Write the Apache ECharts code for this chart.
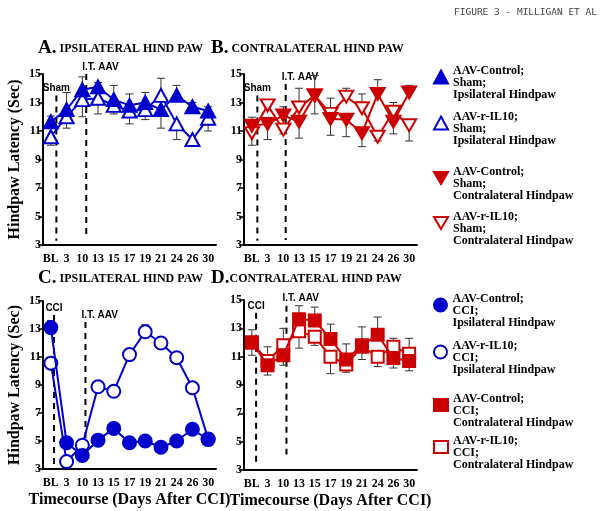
<!DOCTYPE html>
<html>
<head>
<meta charset="utf-8">
<script src="https://cdn.jsdelivr.net/npm/echarts@6/dist/echarts.min.js"></script>
<style>
  html, body { margin: 0; padding: 0; background: #fff; }
  #chart { width: 600px; height: 511px; }
</style>
</head>
<body>
<div id="chart"></div>
<script>
const categories = ['BL', '3', '10', '13', '15', '17', '19', '21', '24', '26', '30'];

// A. ipsilateral, sham
const shamIpsiCtrl = [11.65, 12.5, 13.9, 14.1, 13.2, 12.8, 13.0, 12.5, 13.5, 12.7, 12.4];
const shamIpsiCtrlSem = [0.4, 1.2, 0.9, 0.3, 1.0, 0.8, 0.7, 1.3, 0.7, 0.3, 0.3];
const shamIpsiIL10 = [10.6, 12.0, 13.2, 13.3, 12.8, 12.4, 12.5, 13.5, 11.5, 10.4, 11.9];
const shamIpsiIL10Sem = [0.6, 0.8, 1.2, 1.1, 0.6, 0.9, 0.7, 1.2, 1.1, 0.3, 0.9];
// B. contralateral, sham
const shamContraCtrl = [11.37, 11.5, 12.1, 11.65, 13.5, 11.85, 11.8, 10.85, 13.6, 11.65, 13.7];
const shamContraCtrlSem = [0.6, 1.1, 0.6, 1.15, 1.4, 1.15, 1.2, 0.95, 1.0, 0.85, 0.5];
const shamContraIL10 = [10.85, 12.8, 11.1, 12.65, 13.5, 12.2, 13.4, 12.6, 10.6, 12.35, 11.4];
const shamContraIL10Sem = [0.85, 0.4, 0.3, 1.35, 1.3, 1.1, 0.6, 1.0, 0.3, 0.65, 1.1];
// C. ipsilateral, CCI
const cciIpsiCtrl = [13.1, 4.87, 3.97, 5.06, 5.9, 4.87, 5.0, 4.55, 5.0, 5.84, 5.1];
const cciIpsiCtrlSem = [0.5, 0.3, 0.3, 0.2, 0.3, 0.2, 0.2, 0.2, 0.2, 0.3, 0.2];
const cciIpsiIL10 = [10.56, 3.53, 4.7, 8.87, 8.55, 11.17, 12.8, 12.0, 10.95, 8.8, 5.15];
const cciIpsiIL10Sem = [0.3, 0.2, 0.2, 0.3, 0.3, 0.3, 0.5, 0.3, 0.3, 0.3, 0.2];
// D. contralateral, CCI
const cciContraCtrl = [12.0, 10.4, 11.1, 13.65, 13.55, 12.25, 10.8, 11.8, 12.55, 10.9, 10.7];
const cciContraCtrlSem = [0.9, 0.7, 0.7, 0.95, 0.95, 1.05, 1.1, 1.3, 1.25, 0.7, 0.7];
const cciContraIL10 = [12.0, 10.7, 11.8, 12.8, 12.4, 11.0, 10.45, 11.7, 11.0, 11.7, 11.2];
const cciContraIL10Sem = [0.9, 1.0, 1.2, 1.2, 0.6, 1.2, 0.55, 0.9, 0.7, 0.6, 1.1];

const yTicks = { min: 3, max: 15, interval: 2 };
const panelTitles = ['IPSILATERAL HIND PAW', 'CONTRALATERAL HIND PAW', 'IPSILATERAL HIND PAW', 'CONTRALATERAL HIND PAW'];
const panelLetters = ['A.', 'B.', 'C.', 'D.'];
// [label, category index, fraction towards next category, top value, bottom value]
const shamEvents = [['Sham', 0, 0.35, 13.5, 3.3], ['I.T. AAV', 2, 0.25, 15, 3.6]];
const shamEventsB = [['Sham', 0, 0.35, 13.5, 3.3], ['I.T. AAV', 2, 0.15, 14.3, 3.35]];
const cciEventsC = [['CCI', 0, 0.2, 14.0, 3.3], ['I.T. AAV', 2, 0.2, 13.5, 4.0]];
const cciEventsD = [['CCI', 0, 0.27, 14.1, 3.5], ['I.T. AAV', 2, 0.2, 14.6, 4.1]];

const SERIF = '"Liberation Serif", "DejaVu Serif", serif';
const SANS = '"Liberation Sans", Arial, sans-serif';
const BLUE = '#0000cc';
const RED = '#cc0000';
const DOWN = 'path://M0,0L14,0L7,12Z';

const chart = echarts.init(document.getElementById('chart'), null, { renderer: 'canvas' });

const grids = [
  { left: 43, top: 74, width: 173, height: 171 },
  { left: 244, top: 74, width: 173, height: 171 },
  { left: 43, top: 301, width: 173, height: 168 },
  { left: 244, top: 300, width: 173, height: 170 }
];

function makeXAxis(gi) {
  const ax = {
    type: 'category', gridIndex: gi, data: categories, boundaryGap: true,
    axisLine: { lineStyle: { color: '#000', width: 2 } },
    axisTick: { alignWithLabel: true, length: 4, lineStyle: { color: '#000', width: 1.5 } },
    axisLabel: { fontFamily: SERIF, fontWeight: 'bold', fontSize: 12, color: '#000', margin: 8, interval: 0 },
    splitLine: { show: false }
  };
  if (gi >= 2) {
    ax.name = 'Timecourse (Days After CCI)';
    ax.nameLocation = 'middle';
    ax.nameGap = 23;
    ax.nameTextStyle = { fontFamily: SERIF, fontWeight: 'bold', fontSize: 16, color: '#000' };
  }
  return ax;
}

function makeYAxis(gi) {
  const ax = {
    type: 'value', gridIndex: gi, min: yTicks.min, max: yTicks.max, interval: yTicks.interval,
    axisLine: { show: true, lineStyle: { color: '#000', width: 2 } },
    axisTick: { show: true, length: 5, lineStyle: { color: '#000', width: 1.5 } },
    axisLabel: { fontFamily: SERIF, fontWeight: 'bold', fontSize: 12, color: '#000', margin: 2 },
    splitLine: { show: false }
  };
  if (gi === 0 || gi === 2) {
    ax.name = 'Hindpaw Latency (Sec)';
    ax.nameLocation = 'middle';
    ax.nameGap = 20;
    ax.nameTextStyle = { fontFamily: SERIF, fontWeight: 'bold', fontSize: 16, color: '#000' };
  }
  return ax;
}

function errorItems(vals, sems, other) {
  return vals.map((v, i) => [i, v, sems[i], v >= other[i] ? 1 : -1]);
}
function errorItemsOpen(vals, sems, other) {
  return vals.map((v, i) => [i, v, sems[i], v > other[i] ? 1 : -1]);
}

function renderError(params, api) {
  const i = api.value(0), v = api.value(1), sem = api.value(2), dir = api.value(3);
  const p0 = api.coord([i, v]);
  const p1 = api.coord([i, v + dir * sem]);
  const st = { stroke: '#333', lineWidth: 1 };
  return {
    type: 'group', children: [
      { type: 'line', shape: { x1: p0[0], y1: p0[1], x2: p1[0], y2: p1[1] }, style: st },
      { type: 'line', shape: { x1: p1[0] - 4, y1: p1[1], x2: p1[0] + 4, y2: p1[1] }, style: st }
    ]
  };
}

function eventSeries(gi, events) {
  return {
    type: 'custom', xAxisIndex: gi, yAxisIndex: gi, z: 1, silent: true,
    encode: { x: 0, y: [2, 3] },
    data: events.map(e => [e[1], e[2], e[3], e[4]]),
    renderItem: function (params, api) {
      const i = api.value(0), f = api.value(1), top = api.value(2), bot = api.value(3);
      const a = api.coord([i, top]), b = api.coord([i + 1, top]);
      const x = a[0] + f * (b[0] - a[0]);
      const y2 = api.coord([i, bot])[1];
      const first = params.dataIndex === 0;
      return {
        type: 'group', children: [
          { type: 'line', shape: { x1: x, y1: a[1], x2: x, y2: y2 },
            style: { stroke: '#000', lineWidth: 2, lineDash: [6, 5] } },
          { type: 'text', x: first ? x : x - 4, y: a[1] - 2,
            style: { text: events[params.dataIndex][0], fill: '#000', font: 'bold 10px ' + SANS,
              align: first ? 'center' : 'left', verticalAlign: 'bottom' } }
        ]
      };
    }
  };
}

const seriesNames = [
  'AAV-Control;\nSham;\nIpsilateral Hindpaw', 'AAV-r-IL10;\nSham;\nIpsilateral Hindpaw',
  'AAV-Control;\nSham;\nContralateral Hindpaw', 'AAV-r-IL10;\nSham;\nContralateral Hindpaw',
  'AAV-Control;\nCCI;\nIpsilateral Hindpaw', 'AAV-r-IL10;\nCCI;\nIpsilateral Hindpaw',
  'AAV-Control;\nCCI;\nContralateral Hindpaw', 'AAV-r-IL10;\nCCI;\nContralateral Hindpaw'
];
const icons = ['triangle', 'triangle', DOWN, DOWN, 'circle', 'circle', 'rect', 'rect'];
const sizes = [[14, 13], [14, 13], [14, 12], [14, 12], 13, 13, 12, 12];
const colors = [BLUE, BLUE, RED, RED, BLUE, BLUE, RED, RED];
const values = [shamIpsiCtrl, shamIpsiIL10, shamContraCtrl, shamContraIL10, cciIpsiCtrl, cciIpsiIL10, cciContraCtrl, cciContraIL10];
const sems = [shamIpsiCtrlSem, shamIpsiIL10Sem, shamContraCtrlSem, shamContraIL10Sem, cciIpsiCtrlSem, cciIpsiIL10Sem, cciContraCtrlSem, cciContraIL10Sem];

const series = [];
for (let k = 0; k < 8; k++) {
  const gi = Math.floor(k / 2);
  const open = k % 2 === 1;
  const other = values[open ? k - 1 : k + 1];
  series.push({
    type: 'custom', xAxisIndex: gi, yAxisIndex: gi, z: 2, silent: true,
    data: open ? errorItemsOpen(values[k], sems[k], other) : errorItems(values[k], sems[k], other),
    renderItem: renderError
  });
  series.push({
    name: seriesNames[k], type: 'line', xAxisIndex: gi, yAxisIndex: gi, z: 3 + (open ? 0 : 1),
    data: values[k], symbol: icons[k], symbolSize: sizes[k], showAllSymbol: true,
    lineStyle: { color: colors[k], width: 2 },
    itemStyle: { color: open ? '#fff' : colors[k], borderColor: colors[k], borderWidth: 2 },
    emphasis: { disabled: true }, animation: false
  });
}
series.push(eventSeries(0, shamEvents));
series.push(eventSeries(1, shamEventsB));
series.push(eventSeries(2, cciEventsC));
series.push(eventSeries(3, cciEventsD));

const titlePos = [[38, 39], [211, 39], [38, 269], [211, 269]];
const titles = panelLetters.map((l, i) => ({
  text: '{n|' + l + '}' + (i === 3 ? '' : ' ') + panelTitles[i],
  left: titlePos[i][0], top: titlePos[i][1], padding: 0,
  textStyle: { fontFamily: SERIF, fontWeight: 'bold', fontSize: 12, color: '#000',
    rich: { n: { fontFamily: SERIF, fontWeight: 'bold', fontSize: 19, color: '#000' } } }
}));
titles.push({
  text: 'FIGURE 3 - MILLIGAN ET AL', right: 3, top: 8, padding: 0,
  textStyle: { fontFamily: '"DejaVu Sans Mono", monospace', fontWeight: 'normal', fontSize: 9.5, color: '#444' }
});

const legendTops = [53, 99, 154, 199, 281, 328, 381, 423];
const legends = seriesNames.map((n, i) => ({
  data: [{ name: n, icon: icons[i] }], left: 433, top: legendTops[i], orient: 'vertical',
  padding: 0, itemWidth: 14, itemHeight: i >= 6 ? 12 : 13, selectedMode: false,
  itemStyle: { borderWidth: 2 },
  formatter: name => '\n' + name,
  textStyle: { fontFamily: SERIF, fontWeight: 'bold', fontSize: 12, lineHeight: 12, color: '#000' }
}));

chart.setOption({
  animation: false,
  backgroundColor: '#fff',
  title: titles,
  legend: legends,
  grid: grids,
  xAxis: [0, 1, 2, 3].map(makeXAxis),
  yAxis: [0, 1, 2, 3].map(makeYAxis),
  series: series
});
</script>
</body>
</html>
